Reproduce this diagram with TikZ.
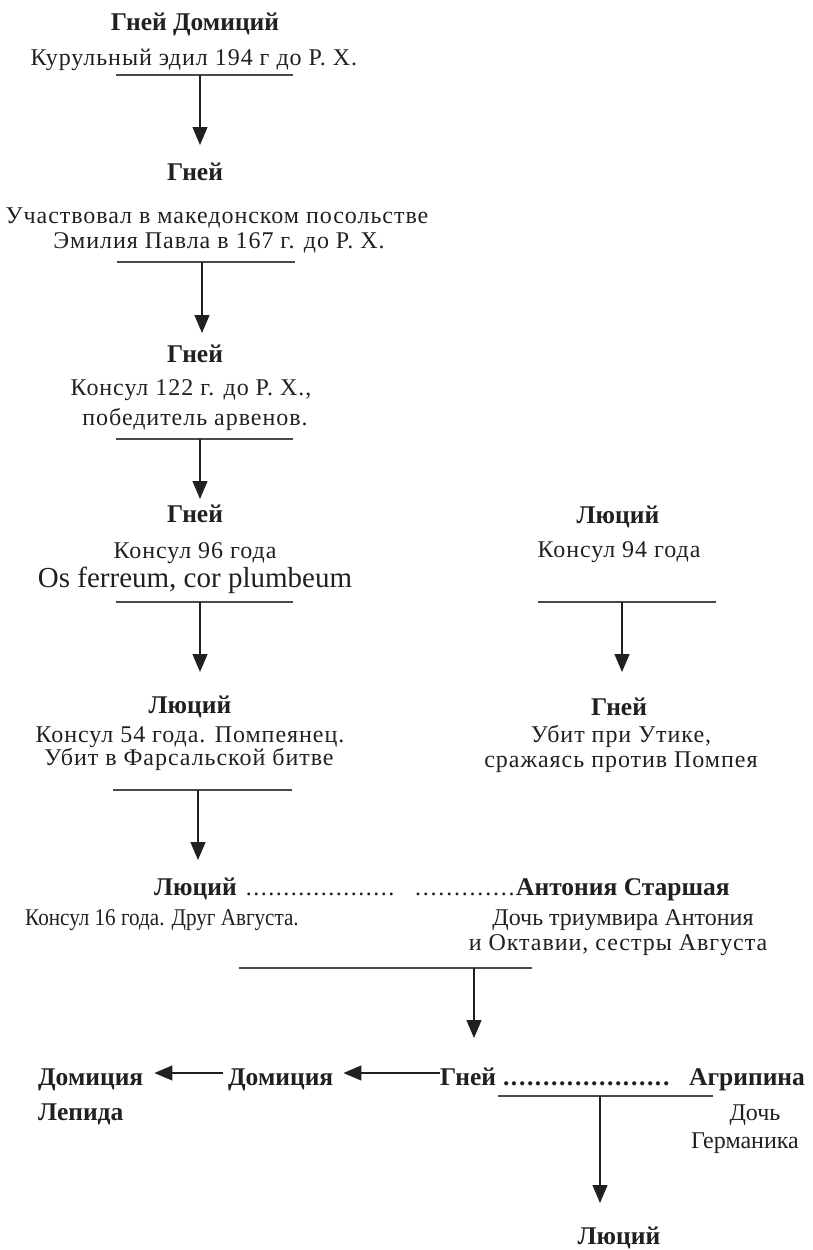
\documentclass[tikz,border=0pt]{standalone}
\usepackage{fontspec}
\setmainfont{Liberation Serif}
\newfontfamily\widefont{Liberation Serif}[LetterSpace=4]
\newfontfamily\condfont{Liberation Serif}[FakeStretch=0.88]
\usetikzlibrary{arrows.meta}
\definecolor{ink}{HTML}{231F20}
\definecolor{barcol}{HTML}{4A4A4A}
\newcommand\dotsrow[2]{\hbox to #1{\leaders\hbox to #2{\hss.\hss}\hfill}}
\tikzset{
  nm/.style={font={\fontsize{25.5}{28}\selectfont\bfseries}, text=ink, anchor=base, inner sep=0pt},
  tx/.style={font={\fontsize{24}{27}\selectfont\widefont}, text=ink, anchor=base, inner sep=0pt},
  plain/.style={font={\fontsize{24}{27}\selectfont}, text=ink, anchor=base, inner sep=0pt},
  cond/.style={font={\fontsize{24}{27}\selectfont\condfont}, text=ink, anchor=base, inner sep=0pt},
  big/.style={font={\fontsize{29}{30}\selectfont}, text=ink, anchor=base, inner sep=0pt},
  bar/.style={line width=1.7pt, draw=barcol},
  arr/.style={line width=1.3pt, draw=ink, -{Triangle[length=18pt,width=15pt]}},
}
\begin{document}
\begin{tikzpicture}[x=1pt,y=-1pt]
\useasboundingbox (0,0) rectangle (812,1250);
% column 1
\node[nm] (g1) at (195,30) {Гней Домиций};
\node[tx] (g1a) at (194,65) {Курульный эдил 194 г до Р. Х.};
\draw[bar] (116,75) -- (293,75);
\coordinate (b1) at (200,75);
\node[nm] (g2) at (195,180) {Гней};
\node[tx] (g2a) at (217,223) {Участвовал в македонском посольстве};
\node[tx] (g2b) at (219,248) {Эмилия Павла в 167 г. до Р. Х.};
\draw[bar] (117,262) -- (295,262);
\coordinate (b2) at (202,262);
\node[nm] (g3) at (195,362) {Гней};
\node[tx] (g3a) at (191,395) {Консул 122 г. до Р. Х.,};
\node[tx] (g3b) at (195,425) {победитель арвенов.};
\draw[bar] (116,439) -- (293,439);
\coordinate (b3) at (200,439);
\node[nm] (g4) at (195,522) {Гней};
\node[tx] (g4a) at (195,558) {Консул 96 года};
\node[big] (g4b) at (195,587) {Os ferreum, cor plumbeum};
\draw[bar] (116,602) -- (293,602);
\coordinate (b4) at (200,602);
% right column
\node[nm] (l1) at (618,523) {Люций};
\node[tx] (l1a) at (619,557) {Консул 94 года};
\draw[bar] (538,602) -- (716,602);
\coordinate (b5) at (622,602);
\node[nm] (r2) at (619,715) {Гней};
\node[tx] (r2a) at (621,742) {Убит при Утике,};
\node[tx] (r2b) at (621,767) {сражаясь против Помпея};
% Lucius 54
\node[nm] (l2) at (190,713) {Люций};
\node[tx] (l2a) at (190,742) {Консул 54 года. Помпеянец.};
\node[tx] (l2b) at (189,765) {Убит в Фарсальской битве};
\draw[bar] (113,790) -- (292,790);
\coordinate (b6) at (198,790);
% Lucius 16 + Antonia
\node[nm, anchor=base west] (l3) at (154,895) {Люций};
\node[plain, anchor=base west] (d1) at (245,895) {\dotsrow{156pt}{7.5pt}};
\node[plain, anchor=base west] (d2) at (414,895) {\dotsrow{102pt}{7.8pt}};
\node[nm, anchor=base west] (ant) at (516,895) {Антония Старшая};
\node[cond] (l3a) at (162,925) {Консул 16 года. Друг Августа.};
\node[plain] (anta) at (623,925) {Дочь триумвира Антония};
\node[tx] (antb) at (618,950) {и Октавии, сестры Августа};
\draw[bar] (239,968) -- (532,968);
\coordinate (b7) at (474,968);
% Gnaeus + Agrippina
\node[nm, anchor=base west] (dom1) at (38,1085) {Домиция};
\node[nm, anchor=base west] (lep) at (38,1120) {Лепида};
\node[nm, anchor=base west] (dom2) at (228,1085) {Домиция};
\node[nm, anchor=base west] (g5) at (440,1085) {Гней};
\node[nm, anchor=base west] (d3) at (502,1085) {\dotsrow{175pt}{8pt}};
\node[nm, anchor=base west] (agr) at (689,1085) {Агрипина};
\node[plain] (agra) at (755,1120) {Дочь};
\node[plain] (agrb) at (745,1148) {Германика};
\draw[bar] (498,1096) -- (713,1096);
\coordinate (b8) at (600,1096);
\node[nm] (l4) at (619,1244) {Люций};
% arrows
\draw[arr, shorten >=35pt] (b1) -- (b1 |- g2.base);
\draw[arr, shorten >=29pt] (b2) -- (b2 |- g3.base);
\draw[arr, shorten >=23pt] (b3) -- (b3 |- g4.base);
\draw[arr, shorten >=41pt] (b4) -- (b4 |- l2.base);
\draw[arr, shorten >=43pt] (b5) -- (b5 |- r2.base);
\draw[arr, shorten >=35pt] (b6) -- (b6 |- l3.base);
\draw[arr, shorten >=47pt] (b7) -- (b7 |- g5.base);
\draw[arr, shorten >=41pt] (b8) -- (b8 |- l4.base);
\draw[arr, shorten <=5pt, shorten >=11pt] ([yshift=12pt]dom2.base west) -- ([yshift=12pt]dom1.base east);
\draw[arr, shorten >=10pt] ([yshift=12pt]g5.base west) -- ([yshift=12pt]dom2.base east);
\end{tikzpicture}
\end{document}
